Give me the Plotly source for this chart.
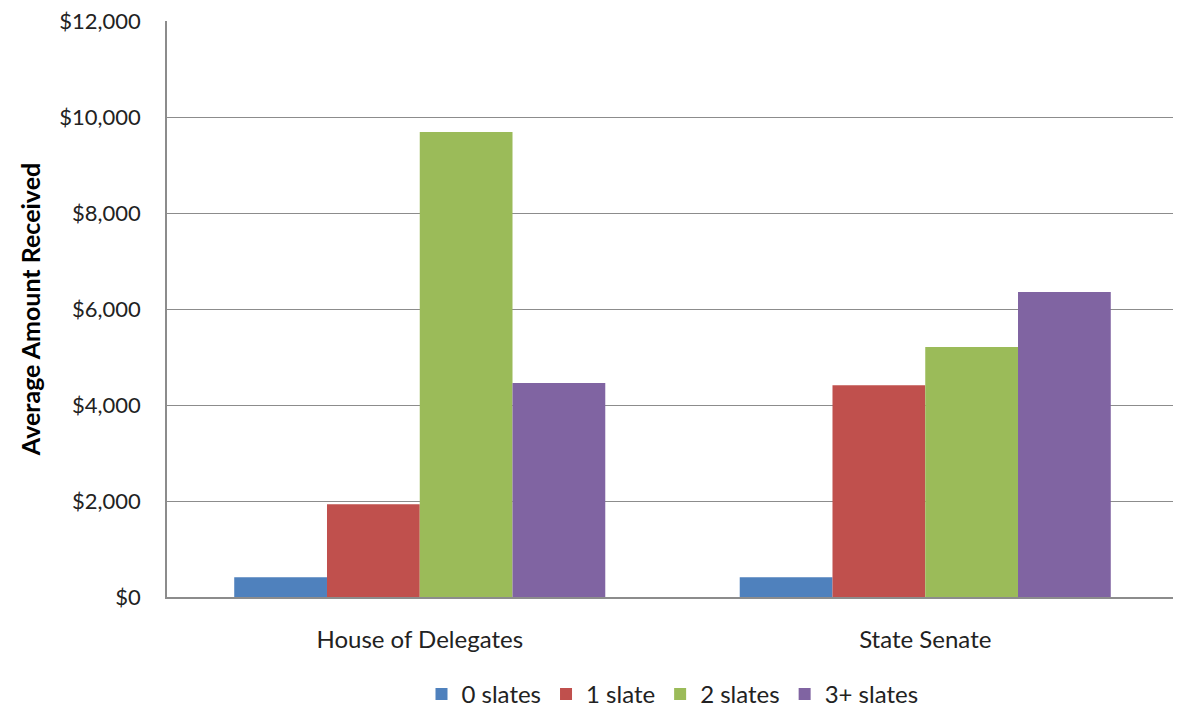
import plotly.graph_objects as go

categories = ["House of Delegates", "State Senate"]
series_names = ["0 slates", "1 slate", "2 slates", "3+ slates"]
zero_slates = [410, 410]
one_slate = [1930, 4410]
two_slates = [9690, 5210]
three_plus = [4460, 6355]
y_ticks = [0, 2000, 4000, 6000, 8000, 10000, 12000]

colors = ["#4F81BD", "#C0504D", "#9BBB59", "#8064A2"]
values = [zero_slates, one_slate, two_slates, three_plus]

fig = go.Figure()
for name, vals, col in zip(series_names, values, colors):
    fig.add_trace(go.Bar(
        x=categories, y=vals, name=name,
        marker=dict(color=col, line=dict(width=0)),
    ))

# page body has an 8px margin, so the figure is sized to fit the window
font = "Lato, 'Open Sans', sans-serif"
fig.update_layout(
    width=1173, height=709,
    margin=dict(l=159, r=3, t=13, b=120),
    paper_bgcolor="white", plot_bgcolor="white",
    barmode="group", bargap=0.266, bargroupgap=0,
    font=dict(family=font, color="#222222", size=24),
    showlegend=True,
    legend=dict(orientation="h", x=0.5, xanchor="center",
                yref="container", y=-0.016, yanchor="bottom",
                font=dict(size=24), itemwidth=30, traceorder="normal"),
    xaxis=dict(showgrid=False, showline=True, linecolor="#8C8C8C", linewidth=1.5,
               ticks="", tickfont=dict(size=24), ticklabelstandoff=20,
               automargin=False),
    yaxis=dict(range=[0, 12000], tickvals=y_ticks,
               ticktext=["${:,}".format(v) for v in y_ticks],
               showgrid=True, gridcolor="#8C8C8C", gridwidth=1.2,
               showline=True, linecolor="#8C8C8C", linewidth=1.5,
               ticks="", ticklen=0, tickfont=dict(size=22), zeroline=False,
               ticklabelstandoff=20, ticklabeloverflow="allow", automargin=False,
               title=dict(text="<b>Average Amount Received</b>",
                          font=dict(size=25, color="#000000"), standoff=12)),
)

fig.write_html("out.html")
